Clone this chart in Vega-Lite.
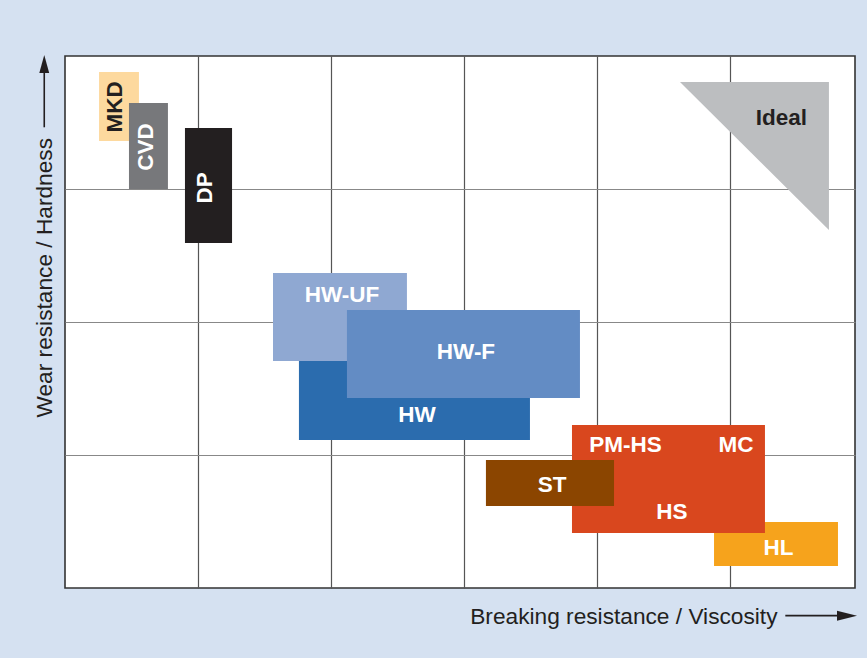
{
  "$schema": "https://vega.github.io/schema/vega-lite/v6.json",
  "width": 790,
  "height": 532,
  "autosize": {"type": "none"},
  "padding": {"left": 65, "top": 56, "right": 12, "bottom": 70},
  "background": "#d5e1f1",
  "config": {
    "view": {"fill": "white", "stroke": "#333333", "strokeWidth": 1.6},
    "font": "Liberation Sans"
  },
  "datasets": {
    "boxes": [
      {"name": "MKD", "x": 0.256, "x2": 0.556, "y": 3.361, "y2": 3.88},
      {"name": "CVD", "x": 0.481, "x2": 0.774, "y": 3.0, "y2": 3.647},
      {"name": "DP", "x": 0.902, "x2": 1.256, "y": 2.594, "y2": 3.459},
      {"name": "HW", "x": 1.759, "x2": 3.496, "y": 1.113, "y2": 1.76},
      {"name": "HW-UF", "x": 1.564, "x2": 2.571, "y": 1.707, "y2": 2.368},
      {"name": "HW-F", "x": 2.12, "x2": 3.872, "y": 1.429, "y2": 2.09},
      {"name": "HL", "x": 4.88, "x2": 5.812, "y": 0.165, "y2": 0.496},
      {"name": "HS", "x": 3.812, "x2": 5.263, "y": 0.414, "y2": 1.226},
      {"name": "ST", "x": 3.165, "x2": 4.128, "y": 0.617, "y2": 0.962}
    ],
    "ideal": [
      {"x": 4.624, "y": 3.805, "y2": 3.805},
      {"x": 5.744, "y": 3.805, "y2": 2.692}
    ],
    "vlabels": [
      {"label": "MKD", "x": 0.376, "y": 3.617},
      {"label": "CVD", "x": 0.609, "y": 3.316},
      {"label": "DP", "x": 1.053, "y": 3.008}
    ],
    "hlabels": [
      {"label": "HW-UF", "x": 2.083, "y": 2.214},
      {"label": "HW-F", "x": 3.015, "y": 1.782},
      {"label": "HW", "x": 2.647, "y": 1.305},
      {"label": "PM-HS", "x": 4.214, "y": 1.079},
      {"label": "MC", "x": 5.045, "y": 1.079},
      {"label": "HS", "x": 4.564, "y": 0.579},
      {"label": "HL", "x": 5.365, "y": 0.312},
      {"label": "ST", "x": 3.662, "y": 0.782},
      {"label": "Ideal", "x": 5.387, "y": 3.538}
    ],
    "xarrow": [
      {"x": 5.416, "x2": 5.88, "y": -0.208}
    ],
    "yarrow": [
      {"x": -0.156, "y": 3.464, "y2": 3.94}
    ]
  },
  "layer": [
    {
      "data": {"name": "ideal"},
      "mark": {"type": "area", "color": "#bcbec0", "opacity": 1},
      "encoding": {
        "x": {
          "field": "x", "type": "quantitative",
          "scale": {"domain": [0, 5.94], "nice": false, "zero": false},
          "axis": {
            "values": [1, 2, 3, 4, 5], "grid": true, "gridColor": "#555555", "gridWidth": 1.2, "gridOpacity": 1,
            "ticks": false, "labels": false, "domain": false,
            "title": "Breaking resistance / Viscosity",
            "titleFont": "Liberation Sans", "titleFontSize": 22.7, "titleFontWeight": "normal",
            "titleColor": "#231f20", "titleX": 712, "titleY": 35,
            "titleAlign": "right", "titleBaseline": "alphabetic"
          }
        },
        "y": {
          "field": "y", "type": "quantitative",
          "scale": {"domain": [0, 4], "nice": false, "zero": false},
          "axis": {
            "values": [1, 2, 3], "grid": true, "gridColor": "#888888", "gridWidth": 1.2, "gridOpacity": 1,
            "ticks": false, "labels": false, "domain": false,
            "title": "Wear resistance / Hardness",
            "titleFont": "Liberation Sans", "titleFontSize": 22.7, "titleFontWeight": "normal",
            "titleColor": "#231f20", "titleX": -14, "titleY": 361, "titleAngle": 270,
            "titleAlign": "left", "titleBaseline": "alphabetic"
          }
        },
        "y2": {"field": "y2"}
      }
    },
    {
      "data": {"name": "boxes"},
      "mark": {"type": "rect"},
      "encoding": {
        "x": {"field": "x", "type": "quantitative"},
        "x2": {"field": "x2"},
        "y": {"field": "y", "type": "quantitative"},
        "y2": {"field": "y2"},
        "color": {
          "field": "name", "type": "nominal", "legend": null,
          "scale": {
            "domain": ["MKD", "CVD", "DP", "HW", "HW-UF", "HW-F", "HL", "HS", "ST"],
            "range": ["#fdd99e", "#77787b", "#231f20", "#2b6cae", "#8fa8d2", "#638cc4", "#f6a31c", "#d9471e", "#8b4500"]
          }
        }
      }
    },
    {
      "data": {"name": "vlabels"},
      "mark": {"type": "text", "angle": 270, "fontSize": 22.5, "fontWeight": "bold", "align": "center", "baseline": "middle", "font": "Liberation Sans"},
      "encoding": {
        "x": {"field": "x", "type": "quantitative"},
        "y": {"field": "y", "type": "quantitative"},
        "text": {"field": "label"},
        "color": {"condition": {"test": "datum.label === 'MKD'", "value": "#231f20"}, "value": "white"}
      }
    },
    {
      "data": {"name": "hlabels"},
      "mark": {"type": "text", "fontSize": 22.5, "fontWeight": "bold", "align": "center", "baseline": "middle", "dy": 1, "font": "Liberation Sans"},
      "encoding": {
        "x": {"field": "x", "type": "quantitative"},
        "y": {"field": "y", "type": "quantitative"},
        "text": {"field": "label"},
        "color": {"condition": {"test": "datum.label === 'Ideal'", "value": "#231f20"}, "value": "white"}
      }
    },
    {
      "data": {"name": "xarrow"},
      "mark": {"type": "rule", "color": "#231f20", "strokeWidth": 1.6},
      "encoding": {
        "x": {"field": "x", "type": "quantitative"},
        "x2": {"field": "x2"},
        "y": {"field": "y", "type": "quantitative"}
      }
    },
    {
      "data": {"name": "xarrow"},
      "mark": {"type": "point", "shape": "M-1,-0.5L1,0L-1,0.5Z", "size": 400, "filled": true, "color": "#231f20", "opacity": 1},
      "encoding": {
        "x": {"field": "x2", "type": "quantitative"},
        "y": {"field": "y", "type": "quantitative"}
      }
    },
    {
      "data": {"name": "yarrow"},
      "mark": {"type": "rule", "color": "#231f20", "strokeWidth": 1.6},
      "encoding": {
        "x": {"field": "x", "type": "quantitative"},
        "y": {"field": "y", "type": "quantitative"},
        "y2": {"field": "y2"}
      }
    },
    {
      "data": {"name": "yarrow"},
      "mark": {"type": "point", "shape": "M-0.55,1L0,-1L0.55,1Z", "size": 324, "filled": true, "color": "#231f20", "opacity": 1},
      "encoding": {
        "x": {"field": "x", "type": "quantitative"},
        "y": {"field": "y2", "type": "quantitative"}
      }
    }
  ]
}
